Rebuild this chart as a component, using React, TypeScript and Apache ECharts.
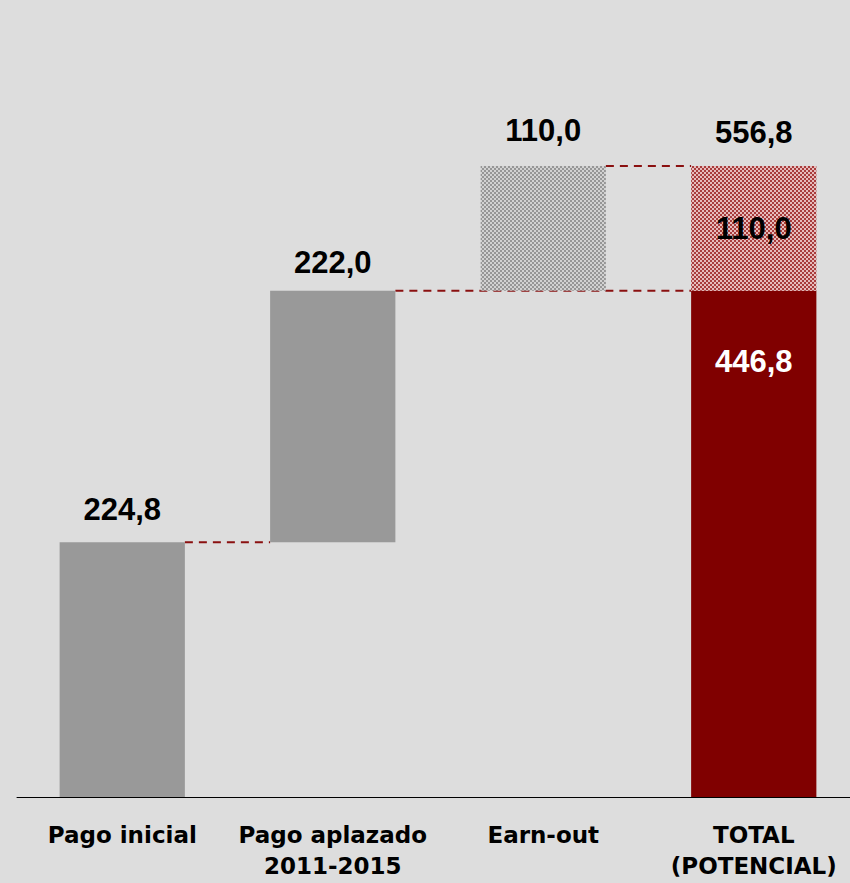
import React, { useEffect, useRef } from "react";
import * as echarts from "echarts";

const categories = ["Pago inicial", "Pago aplazado\n2011-2015", "Earn-out", "TOTAL\n(POTENCIAL)"];
const stepValues = [224.8, 222.0, 110.0];
const confirmedTotal = stepValues[0] + stepValues[1]; // 446,8
const potentialTotal = confirmedTotal + stepValues[2]; // 556,8
const topLabelDistances = [17, 13, 20, 18];

const fmt = (v: number) => v.toFixed(1).replace(".", ",");

function makePattern(dark: string, light: string, size: number) {
  const h = size / 2;
  const svg =
    `<svg xmlns="http://www.w3.org/2000/svg" width="${size}" height="${size}" shape-rendering="crispEdges">` +
    `<rect width="${size}" height="${size}" fill="${dark}"/>` +
    `<rect width="${h}" height="${h}" fill="${light}"/>` +
    `<rect x="${h}" y="${h}" width="${h}" height="${h}" fill="${light}"/>` +
    `</svg>`;
  return {
    image: "data:image/svg+xml;charset=utf-8," + encodeURIComponent(svg),
    repeat: "repeat",
    imageWidth: size,
    imageHeight: size,
  } as any;
}

export default function App() {
  const ref = useRef<HTMLDivElement>(null);
  useEffect(() => {
    if (!ref.current) return;
    const chart = echarts.init(ref.current, null, { renderer: "svg" });
    const grayPattern = makePattern("#969696", "#d2d2d2", 4);
    const redPattern = makePattern("#a83c3c", "#e6bcbc", 4);
    const font = "Liberation Sans, Arial, sans-serif";
    const baseData = [0, stepValues[0], confirmedTotal, 0];
    const numLabel = (d: number, extra: any = {}) => ({
      show: true,
      position: "top",
      distance: d,
      fontSize: 31,
      fontWeight: "bold",
      fontFamily: font,
      color: "#000",
      formatter: (p: any) => fmt(p.value),
      ...extra,
    });
    chart.setOption({
      animation: false,
      backgroundColor: "#dddddd",
      grid: { left: 17, width: 842, top: 117, bottom: 86 },
      xAxis: {
        type: "category",
        data: categories,
        axisLine: { show: true, lineStyle: { color: "#000", width: 1 } },
        axisTick: { show: false },
        axisLabel: {
          interval: 0,
          margin: 22,
          fontSize: 23,
          lineHeight: 31,
          fontWeight: "bold",
          fontFamily: "DejaVu Sans, sans-serif",
          color: "#000",
        },
      },
      yAxis: { type: "value", min: 0, max: 600, show: false, splitLine: { show: false } },
      series: [
        {
          type: "custom",
          z: 1,
          encode: { x: [0, 1], y: 2 },
          data: [
            [0, 1, stepValues[0]],
            [1, 3, confirmedTotal],
            [2, 3, potentialTotal],
          ],
          renderItem: (params: any, api: any) => {
            const s = api.coord([api.value(0), api.value(2)]);
            const e = api.coord([api.value(1), api.value(2)]);
            const hw = (api.size([1, 0])[0] * 0.595) / 2;
            return {
              type: "line",
              shape: { x1: s[0] + hw, y1: s[1], x2: e[0] - hw, y2: e[1] },
              style: { stroke: "#8a1010", lineWidth: 2, lineDash: [8, 6] },
            };
          },
        },
        {
          type: "bar",
          stack: "w",
          barWidth: "59.5%",
          z: 2,
          itemStyle: { color: "transparent" },
          data: baseData,
          silent: true,
        },
        {
          type: "bar",
          stack: "w",
          z: 2,
          itemStyle: { color: "#999999" },
          data: [
            { value: stepValues[0], label: numLabel(topLabelDistances[0]) },
            { value: stepValues[1], label: numLabel(topLabelDistances[1]) },
            { value: stepValues[2], itemStyle: { color: grayPattern }, label: numLabel(topLabelDistances[2]) },
            {
              value: confirmedTotal,
              itemStyle: { color: "#800000" },
              label: numLabel(55, { position: "insideTop", color: "#ffffff" }),
            },
          ],
        },
        {
          type: "bar",
          stack: "w",
          z: 2,
          data: ["-", "-", "-", { value: stepValues[2], itemStyle: { color: redPattern } }],
          label: numLabel(0, { position: "inside" }),
        },
        {
          type: "bar",
          stack: "w",
          z: 2,
          itemStyle: { color: "transparent" },
          data: ["-", "-", "-", 0],
          label: numLabel(topLabelDistances[3], { formatter: () => fmt(potentialTotal) }),
        },
      ],
    });
    return () => chart.dispose();
  }, []);
  return <div ref={ref} style={{ position: "fixed", left: 0, top: 0, width: 870, height: 883 }} />;
}
